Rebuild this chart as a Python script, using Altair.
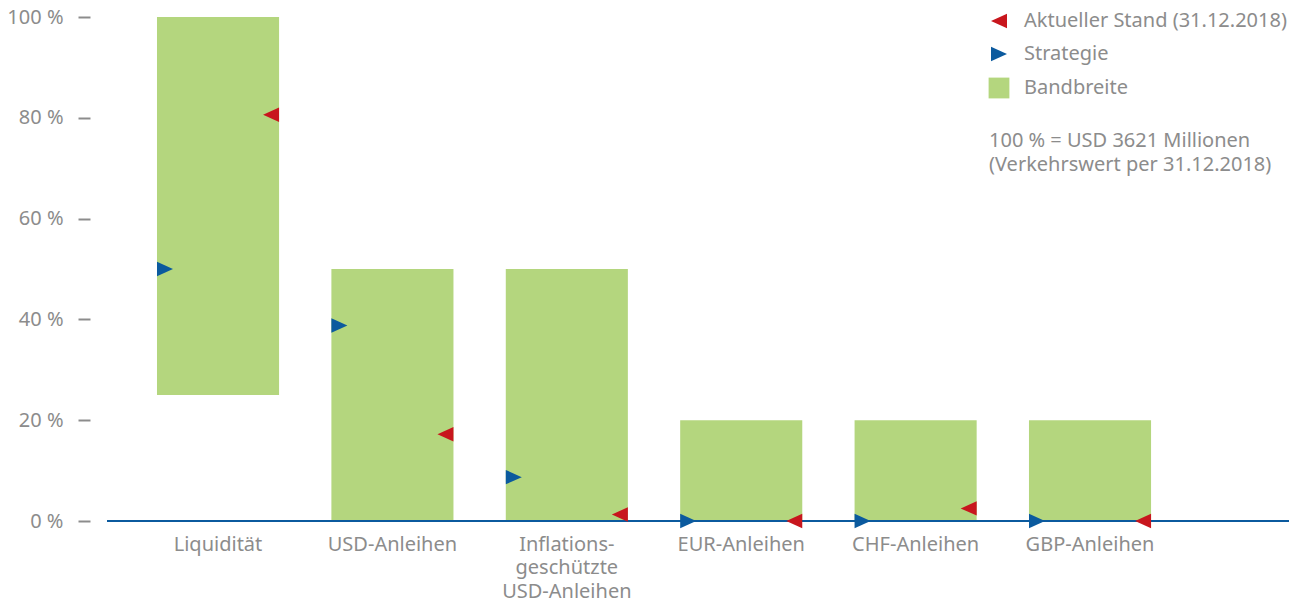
import altair as alt
import pandas as pd

# Asset classes (line breaks become multi-line axis labels)
categories = [
    "Liquidität",
    "USD-Anleihen",
    "Inflations-\ngeschützte\nUSD-Anleihen",
    "EUR-Anleihen",
    "CHF-Anleihen",
    "GBP-Anleihen",
]
# Allowed range (Bandbreite) in percent
band_low = [25, 0, 0, 0, 0, 0]
band_high = [100, 50, 50, 20, 20, 20]
# Strategic allocation in percent
strategy = [50, 38.8, 8.7, 0, 0, 0]
# Actual allocation at 31.12.2018 in percent
current = [80.6, 17.2, 1.3, 0, 2.5, 0]

series_names = ["Aktueller Stand (31.12.2018)", "Strategie", "Bandbreite"]
series_colors = ["#c8161d", "#0b5a9e", "#b4d67e"]
# Custom symbol paths: left triangle, right triangle, square
series_shapes = [
    "M1,-0.9L-1,0L1,0.9Z",
    "M-1,-0.9L1,0L-1,0.9Z",
    "M-1.3,-1.3L1.3,-1.3L1.3,1.3L-1.3,1.3Z",
]

note_lines = ["100 % = USD 3621 Millionen", "(Verkehrswert per 31.12.2018)"]

GRAY = "#8c8c8c"
FONT = "Noto Sans"
FS = 20

bands = pd.DataFrame({
    "category": categories,
    "low": band_low,
    "high": band_high,
    "series": series_names[2],
})
strat = pd.DataFrame({"category": categories, "value": strategy, "series": series_names[1]})
curr = pd.DataFrame({"category": categories, "value": current, "series": series_names[0]})
base = pd.DataFrame({"zero": [0]})

legend = alt.Legend(
    orient="none",
    legendX=882,
    legendY=-6,
    title=note_lines,
    titleOrient="bottom",
    titleAnchor="start",
    titleAlign="left",
    titleFontSize=FS,
    titleFontWeight="normal",
    titleColor=GRAY,
    titleFont=FONT,
    titleLineHeight=24,
    titlePadding=33,
    titleLimit=500,
    labelFontSize=FS,
    labelColor=GRAY,
    labelFont=FONT,
    labelOffset=15,
    labelLimit=500,
    symbolSize=256,
    symbolStrokeWidth=0,
    rowPadding=13,
    padding=0,
)

color_scale = alt.Scale(domain=series_names, range=series_colors)
shape_scale = alt.Scale(domain=series_names, range=series_shapes)

x_enc_args = dict(
    sort=categories,
    scale=alt.Scale(paddingInner=0.3, paddingOuter=0.5388, align=0.266, round=False),
    axis=alt.Axis(
        title=None,
        domain=False,
        ticks=False,
        labelAngle=0,
        labelFontSize=FS,
        labelColor=GRAY,
        labelFont=FONT,
        labelPadding=13,
        labelLineHeight=23.5,
        labelExpr="split(datum.value, '\\n')",
    ),
)

y_axis = alt.Axis(
    title=None,
    values=[0, 20, 40, 60, 80, 100],
    labelExpr="datum.value + ' %'",
    domain=False,
    grid=False,
    offset=17,
    tickSize=12,
    tickWidth=2,
    tickColor=GRAY,
    labelPadding=15,
    labelFontSize=FS,
    labelColor=GRAY,
    labelFont=FONT,
)
y_scale = alt.Scale(domain=[0, 100], nice=False)

bars = alt.Chart(bands).mark_bar().encode(
    x=alt.X("category:N", **x_enc_args),
    y=alt.Y("low:Q", scale=y_scale, axis=y_axis),
    y2="high:Q",
    color=alt.Color("series:N", scale=color_scale, legend=legend),
)

baseline = alt.Chart(base).mark_rule(color="#0b5a9e", strokeWidth=2).encode(
    y=alt.Y("zero:Q", scale=y_scale, axis=y_axis),
)

strat_pts = alt.Chart(strat).mark_point(
    filled=True, size=256, opacity=1, strokeWidth=0, xOffset=8
).encode(
    x=alt.X("category:N", bandPosition=0, **x_enc_args),
    y=alt.Y("value:Q", scale=y_scale, axis=y_axis),
    color=alt.Color("series:N", scale=color_scale, legend=legend),
    shape=alt.Shape("series:N", scale=shape_scale, legend=legend),
)

curr_pts = alt.Chart(curr).mark_point(
    filled=True, size=256, opacity=1, strokeWidth=0, xOffset=-8
).encode(
    x=alt.X("category:N", bandPosition=1, **x_enc_args),
    y=alt.Y("value:Q", scale=y_scale, axis=y_axis),
    color=alt.Color("series:N", scale=color_scale, legend=legend),
    shape=alt.Shape("series:N", scale=shape_scale, legend=legend),
)

chart = (
    alt.layer(bars, baseline, strat_pts, curr_pts)
    .properties(
        width=1182,
        height=504,
        padding={"left": 6, "top": 7, "right": 0, "bottom": 0},
        background="white",
        view=alt.ViewBackground(stroke="white", strokeWidth=0, strokeOpacity=0),
    )
    .configure_view(strokeWidth=0, stroke="white", strokeOpacity=0)
    .configure(font=FONT)
)

chart.save("out.html", embed_options={"renderer": "svg", "actions": False})
